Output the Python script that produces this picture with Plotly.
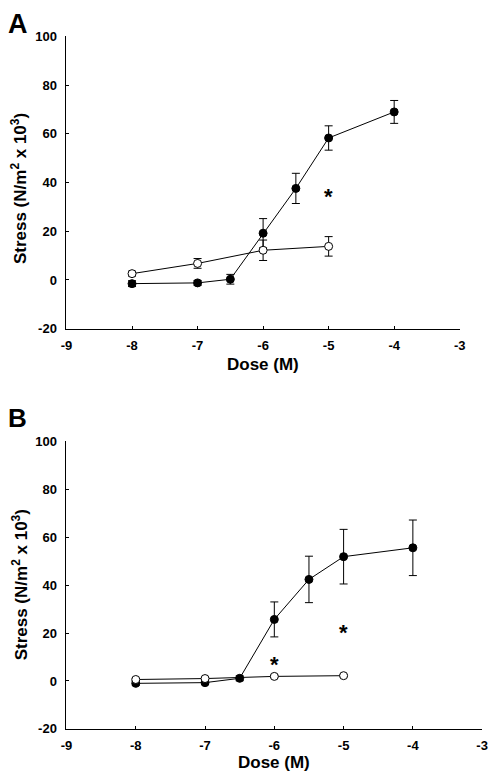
import plotly.graph_objects as go

# ---- data ----
dose = [-8, -7, -6.5, -6, -5.5, -5, -4]
dose_open = [-8, -7, -6, -5]

a_filled = [-1.5, -1.2, 0.3, 19.2, 37.6, 58.3, 69.0]
a_filled_err = [1.2, 1.0, 2.0, 6.0, 6.2, 5.0, 4.7]
a_open = [2.6, 6.8, 12.2, 13.8]
a_open_err = [1.0, 2.0, 4.2, 4.0]
a_star_x = [-5]
a_star_y = [34.6]

b_filled = [-1.0, -0.7, 1.1, 25.7, 42.4, 51.9, 55.6]
b_filled_err = [0.8, 0.8, 1.0, 7.3, 9.7, 11.4, 11.6]
b_open = [0.6, 1.0, 1.9, 2.2]
b_open_err = [0.5, 0.5, 0.5, 0.5]
b_star_x = [-6, -5]
b_star_y = [8.8, 22.4]

x_ticks = [-9, -8, -7, -6, -5, -4, -3]
y_ticks = [-20, 0, 20, 40, 60, 80, 100]

W, H = 494, 780
FONT = "Liberation Sans, Arial, sans-serif"

fig = go.Figure()

def add_panel(xa, ya, filled, ferr, opn, oerr):
    fig.add_trace(go.Scatter(
        x=dose, y=filled, mode="lines+markers", xaxis=xa, yaxis=ya,
        line=dict(color="black", width=1),
        marker=dict(symbol="circle", size=8, color="black",
                    line=dict(color="black", width=1)),
        error_y=dict(type="data", array=ferr, visible=True,
                     color="black", thickness=1, width=4),
        showlegend=False, cliponaxis=False, hoverinfo="skip"))
    fig.add_trace(go.Scatter(
        x=dose_open, y=opn, mode="lines+markers", xaxis=xa, yaxis=ya,
        line=dict(color="black", width=1),
        marker=dict(symbol="circle", size=8, color="white",
                    line=dict(color="black", width=1)),
        error_y=dict(type="data", array=oerr, visible=True,
                     color="black", thickness=1, width=4),
        showlegend=False, cliponaxis=False, hoverinfo="skip"))

add_panel("x", "y", a_filled, a_filled_err, a_open, a_open_err)
add_panel("x2", "y2", b_filled, b_filled_err, b_open, b_open_err)

axis_common = dict(
    showgrid=False, zeroline=False, showline=True, linecolor="black",
    linewidth=1, ticks="inside", ticklen=3, tickcolor="black", tickwidth=1,
    tickfont=dict(family=FONT, size=13, color="black", weight="bold"),
    ticklabeloverflow="allow", fixedrange=True,
)

def bold(vals):
    return ["<b>%d</b>" % v for v in vals]

fig.update_layout(
    width=W, height=H, margin=dict(l=0, r=0, t=0, b=0),
    paper_bgcolor="white", plot_bgcolor="white",
    xaxis=dict(domain=[62 / W, 465 / W], range=[-9, -3], tickvals=x_ticks,
               ticktext=bold(x_ticks), anchor="y", ticklabelstandoff=5,
               **axis_common),
    yaxis=dict(domain=[1 - 328 / H, 1 - 30 / H], range=[-20, 100],
               tickvals=y_ticks, ticktext=bold(y_ticks), anchor="x",
               ticklabelstandoff=6, **axis_common),
    xaxis2=dict(domain=[62 / W, 488 / W], range=[-9, -3], tickvals=x_ticks,
                ticktext=bold(x_ticks), anchor="y2", ticklabelstandoff=5,
                **axis_common),
    yaxis2=dict(domain=[1 - 736 / H, 1 - 443 / H], range=[-20, 100],
                tickvals=y_ticks, ticktext=bold(y_ticks), anchor="x2",
                ticklabelstandoff=6, **axis_common),
)

ann = []
title_font = dict(family=FONT, size=17, color="black", weight="bold")
ytitle = "<b>Stress (N/m<sup>2</sup> x 10<sup>3</sup>)</b>"
# panel letters
ann.append(dict(text="<b>A</b>", x=0, y=1 - 0 / H, xref="paper", yref="paper",
                xanchor="left", yanchor="top", showarrow=False,
                font=dict(family=FONT, size=27, color="black", weight="bold")))
ann.append(dict(text="<b>B</b>", x=0, y=1 - 402 / H, xref="paper", yref="paper",
                xanchor="left", yanchor="top", showarrow=False,
                font=dict(family=FONT, size=26, color="black", weight="bold")))
# axis titles
ann.append(dict(text="<b>Dose (M)</b>", x=263.5 / W, y=1 - 364 / H, xref="paper",
                yref="paper", xanchor="center", yanchor="middle",
                showarrow=False, font=title_font))
ann.append(dict(text="<b>Dose (M)</b>", x=275 / W, y=1 - 770 / H, xref="paper",
                yref="paper", xanchor="center", yanchor="middle",
                showarrow=False, font=title_font))
ann.append(dict(text=ytitle, x=14 / W, y=1 - 185 / H, xref="paper",
                yref="paper", xanchor="center", yanchor="middle",
                textangle=-90, showarrow=False, font=title_font))
ann.append(dict(text=ytitle, x=14 / W, y=1 - 589 / H, xref="paper",
                yref="paper", xanchor="center", yanchor="middle",
                textangle=-90, showarrow=False, font=title_font))
# asterisks
star_font = dict(family=FONT, size=22, color="black", weight="bold")
for sx, sy in zip(a_star_x, a_star_y):
    ann.append(dict(text="<b>*</b>", x=sx, y=sy, xref="x", yref="y",
                    xanchor="center", yanchor="middle", yshift=-1,
                    showarrow=False, font=star_font))
for sx, sy in zip(b_star_x, b_star_y):
    ann.append(dict(text="<b>*</b>", x=sx, y=sy, xref="x2", yref="y2",
                    xanchor="center", yanchor="middle", yshift=-5,
                    showarrow=False, font=star_font))

fig.update_layout(annotations=ann, hovermode=False)
fig.write_html(
    "out.html",
    config={"displayModeBar": False, "staticPlot": True},
    post_script="document.body.style.margin='0';document.body.style.padding='0';"
                "document.body.style.overflow='hidden';",
)
